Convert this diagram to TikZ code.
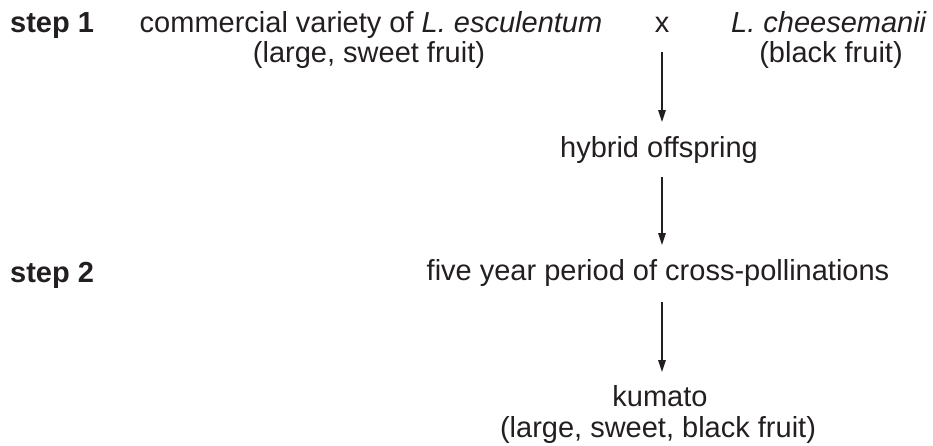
\documentclass[tikz,border=0pt]{standalone}
\usepackage{fontspec}
\setmainfont{Liberation Sans}
\usepackage{tikz}
\usetikzlibrary{arrows.meta}
\definecolor{ink}{HTML}{231F20}

\begin{document}
\begin{tikzpicture}[x=1pt, y=-1pt,
        lbl/.style={anchor=base, inner sep=0pt, text=ink, font=\fontsize{29}{31}\selectfont},
        steplbl/.style={lbl, anchor=base west, font=\fontsize{29}{31}\selectfont\bfseries},
        down/.style={draw=ink, line width=1.3pt, -{Triangle[length=12pt, width=7.5pt]}}]
                \useasboundingbox (0, 0) rectangle (933, 445);

                \node[steplbl] (S1) at (10, 32) {step 1};
                \node[steplbl] (S2) at (10, 282) {step 2};

                \node[lbl] (P1) at (371, 32) {commercial variety of \textit{L. esculentum}};
                \node[lbl] (P1n) at (369, 62) {(large, sweet fruit)};
                \node[lbl] (X) at (662, 32) {x};
                \node[lbl] (P2) at (829, 32) {\textit{L. cheesemanii}};
                \node[lbl] (P2n) at (831, 62) {(black fruit)};

                \node[lbl] (H) at (659, 157) {hybrid offspring};
                \node[lbl] (C) at (658, 280) {five year period of cross-pollinations};
                \node[lbl] (K) at (660, 406) {kumato};
                \node[lbl] (Kn) at (658, 437) {(large, sweet, black fruit)};

                \draw[down] ([yshift=-20pt]X.base -| 662, 0) -- ([yshift=35pt]H.base -| 662, 0);
                \draw[down] ([yshift=-20pt]H.base -| 662, 0) -- ([yshift=35pt]C.base -| 662, 0);
                \draw[down] ([yshift=-22pt]C.base -| 662, 0) -- ([yshift=34pt]K.base -| 662, 0);

            \end{tikzpicture}
\end{document}
